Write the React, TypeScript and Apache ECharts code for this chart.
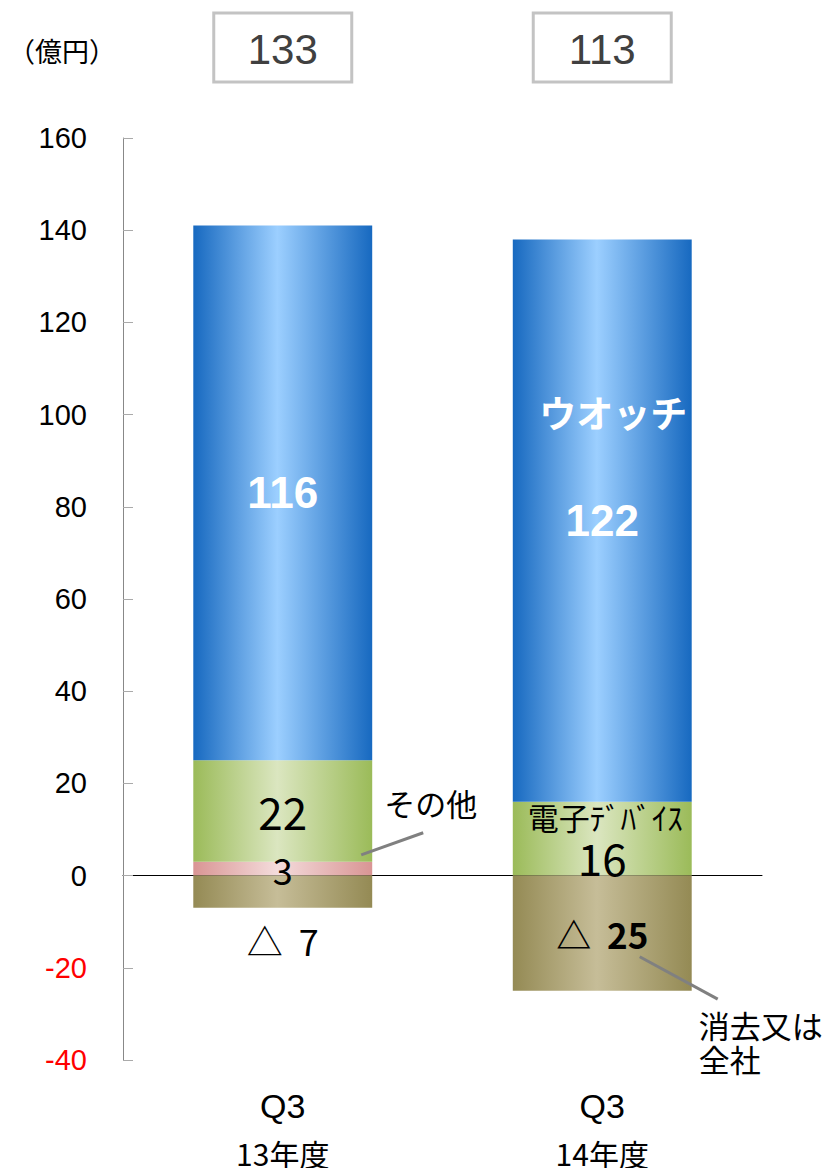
import React, { useEffect, useRef } from 'react';
import * as echarts from 'echarts';

const categories = ['13年度', '14年度'];
const quarters = ['Q3', 'Q3'];
const otherVals = [3, 0];
const deviceVals = [22, 16];
const watchVals = [116, 122];
const elimVals = [-7, -25];
const totals = [133, 113];
const yMin = -40;
const yMax = 160;
const yStep = 20;

const JP = '"Noto Sans CJK JP", "Noto Sans", sans-serif';
const AR = '"Liberation Sans", Arial, "Noto Sans CJK JP", sans-serif';

const grad = (edge: string, mid: string) =>
  new echarts.graphic.LinearGradient(0, 0, 1, 0, [
    { offset: 0, color: edge },
    { offset: 0.47, color: mid },
    { offset: 1, color: edge },
  ]);

export default function App() {
  const ref = useRef<HTMLDivElement>(null);
  useEffect(() => {
    document.body.style.margin = '0';
    if (!ref.current) return;
    const chart = echarts.init(ref.current, undefined, { renderer: 'svg' });
    const blue = grad('#1769c0', '#9ccfff');
    const green = grad('#9bbb59', '#dbe6c0');
    const pink = grad('#d99594', '#f4dcdc');
    const tan = grad('#948a54', '#c6bd98');

    const option: any = {
      animation: false,
      grid: { left: 123, right: 68, top: 138, bottom: 108, outerBoundsMode: 'none' },
      xAxis: {
        type: 'category',
        data: categories,
        axisLine: { onZero: true, lineStyle: { color: '#000', width: 1 } },
        axisTick: { inside: true, length: 10, lineStyle: { color: '#666' } },
        axisLabel: {
          margin: 14,
          formatter: (v: string, i: number) => `{q|${quarters[i]}}\n{y|${v}}`,
          rich: {
            q: { fontSize: 34, fontFamily: AR, color: '#000', lineHeight: 64 },
            y: { fontSize: 30, fontFamily: JP, color: '#000', lineHeight: 30 },
          },
        },
        splitLine: { show: false },
      },
      yAxis: {
        type: 'value',
        min: yMin,
        max: yMax,
        interval: yStep,
        axisLine: { show: true, lineStyle: { color: '#888' } },
        axisTick: { show: true, inside: true, length: 10, lineStyle: { color: '#aaa' } },
        splitLine: { show: false },
        axisLabel: {
          margin: 36,
          fontSize: 29,
          fontFamily: AR,
          color: (v: any) => (Number(v) < 0 ? '#ff0000' : '#000'),
        },
      },
      series: [
        {
          name: 'その他',
          type: 'bar',
          stack: 'a',
          barWidth: '56%',
          itemStyle: { color: pink },
          label: {
            show: true,
            position: 'inside',
            fontSize: 36,
            fontFamily: JP,
            color: '#000',
            formatter: (p: any) => (p.value ? String(p.value) : ''),
          },
          data: otherVals,
        },
        {
          name: '電子デバイス',
          type: 'bar',
          stack: 'a',
          barWidth: '56%',
          itemStyle: { color: green },
          label: {
            show: true,
            position: 'inside',
            fontSize: 44,
            fontFamily: JP,
            color: '#000',
          },
          data: deviceVals.map((v, i) => ({
            value: v,
            label: i === 1 ? { offset: [0, 18] } : {},
          })),
        },
        {
          name: 'ウオッチ',
          type: 'bar',
          stack: 'a',
          barWidth: '56%',
          itemStyle: { color: blue },
          label: {
            show: true,
            position: 'inside',
            fontSize: 44,
            fontWeight: 'bold',
            fontFamily: AR,
            color: '#fff',
          },
          data: watchVals,
        },
        {
          name: '消去又は全社',
          type: 'bar',
          stack: 'a',
          barWidth: '56%',
          itemStyle: { color: tan },
          data: elimVals.map((v, i) => ({
            value: v,
            label:
              i === 0
                ? {
                    show: true,
                    position: 'bottom',
                    distance: 14,
                    fontSize: 36,
                    fontFamily: JP,
                    color: '#000',
                    formatter: '△  ' + Math.abs(v),
                  }
                : {
                    show: true,
                    position: 'inside',
                    fontSize: 35,
                    fontWeight: 'bold',
                    fontFamily: JP,
                    color: '#000',
                    formatter: '△  ' + Math.abs(v),
                  },
          })),
        },
      ],
    };
    chart.setOption(option);

    const px = (i: number, v: number) => chart.convertToPixel({ gridIndex: 0 }, [i, v]) as number[];
    const band = px(1, 0)[0] - px(0, 0)[0];
    const half = band * 0.28;
    const graphics: any[] = [];
    totals.forEach((t, i) => {
      const cx = px(i, 0)[0];
      graphics.push({
        type: 'rect',
        z: 100,
        shape: { x: cx - 69, y: 13, width: 138, height: 69 },
        style: { fill: '#fff', stroke: '#c3c3c3', lineWidth: 3 },
      });
      graphics.push({
        type: 'text',
        z: 101,
        x: cx,
        y: 49,
        style: {
          text: String(t),
          fontSize: 42,
          fontFamily: AR,
          fill: '#404040',
          align: 'center',
          verticalAlign: 'middle',
        },
      });
    });
    graphics.push({
      type: 'text',
      z: 100,
      x: 8,
      y: 50,
      style: { text: '（億円）', fontSize: 27, fontFamily: JP, fill: '#000', verticalAlign: 'middle' },
    });
    const w = px(1, 100.5);
    graphics.push({
      type: 'text',
      z: 100,
      x: w[0] + 11,
      y: w[1],
      style: {
        text: 'ウオッチ',
        fontSize: 37,
        fontWeight: 'bold',
        fontFamily: JP,
        fill: '#fff',
        align: 'center',
        verticalAlign: 'middle',
      },
    });
    const d = px(1, 12.9);
    graphics.push({
      type: 'text',
      z: 100,
      x: d[0] + 3,
      y: d[1],
      style: {
        text: '電子ﾃﾞﾊﾞｲｽ',
        fontSize: 31,
        fontFamily: JP,
        fill: '#000',
        align: 'center',
        verticalAlign: 'middle',
      },
    });
    const r0 = px(0, 0)[0] + half;
    const a1 = px(0, 4.5);
    const a2 = px(0, 9.3);
    graphics.push({
      type: 'line',
      z: 100,
      shape: { x1: r0 - 11, y1: a1[1], x2: r0 + 51, y2: a2[1] },
      style: { stroke: '#808080', lineWidth: 3 },
    });
    graphics.push({
      type: 'text',
      z: 100,
      x: r0 + 12,
      y: px(0, 15.8)[1],
      style: { text: 'その他', fontSize: 31, fontFamily: JP, fill: '#000', verticalAlign: 'middle' },
    });
    const r1 = px(1, 0)[0] + half;
    const b1 = px(1, -17.6);
    const b2 = px(1, -26.8);
    graphics.push({
      type: 'line',
      z: 100,
      shape: { x1: r1 - 52, y1: b1[1], x2: r1 + 26, y2: b2[1] },
      style: { stroke: '#808080', lineWidth: 3 },
    });
    const e1 = px(1, -32.3)[1];
    graphics.push({
      type: 'text',
      z: 100,
      x: r1 + 7,
      y: e1,
      style: { text: '消去又は', fontSize: 31, fontFamily: JP, fill: '#000', verticalAlign: 'middle' },
    });
    graphics.push({
      type: 'text',
      z: 100,
      x: r1 + 7,
      y: e1 + 34,
      style: { text: '全社', fontSize: 31, fontFamily: JP, fill: '#000', verticalAlign: 'middle' },
    });
    chart.setOption({ graphic: graphics });

    return () => chart.dispose();
  }, []);
  return <div ref={ref} style={{ width: 830, height: 1168 }} />;
}
